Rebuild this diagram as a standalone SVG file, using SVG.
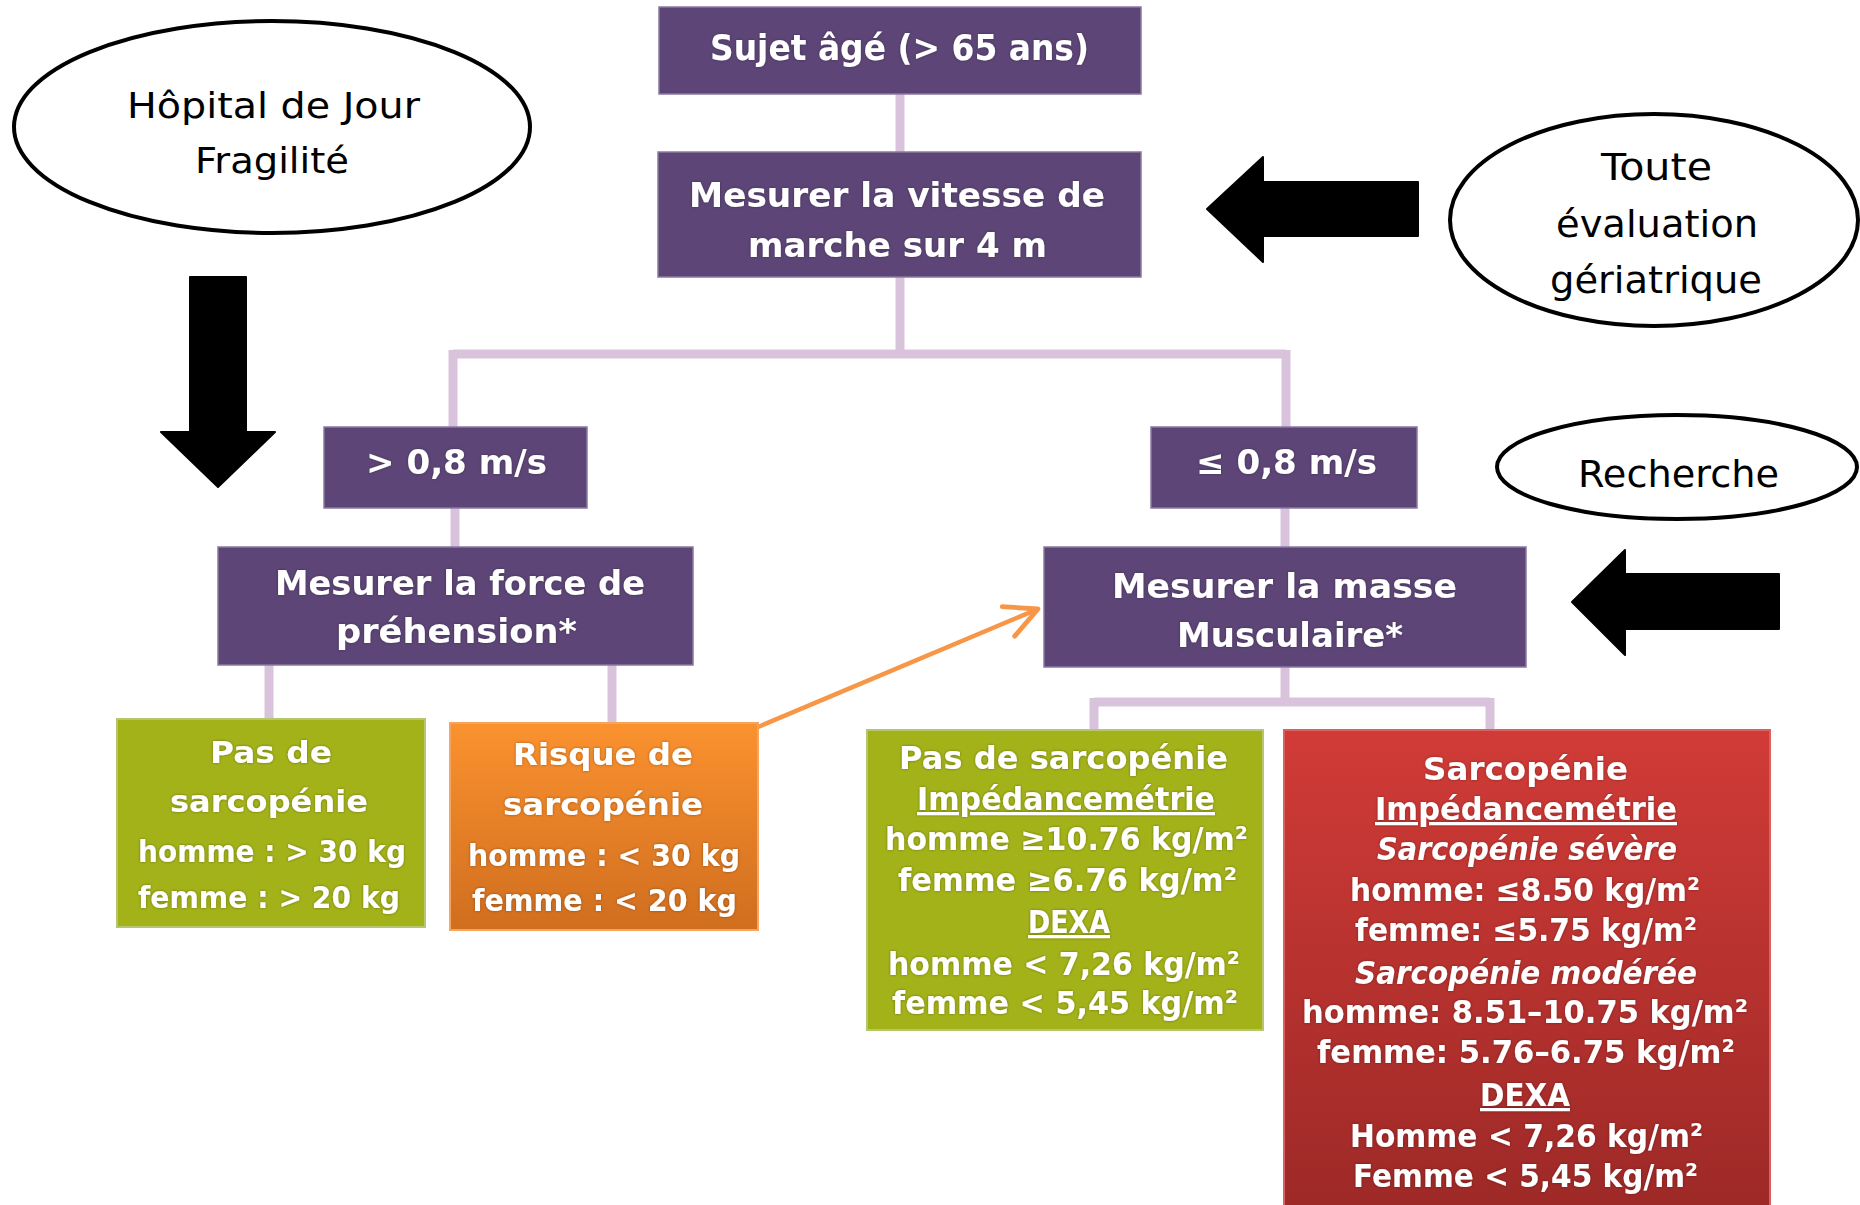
<svg xmlns="http://www.w3.org/2000/svg" width="1860" height="1205" viewBox="0 0 1860 1205">
<style>
.box{fill:#5D4677;stroke:#8A79A0;stroke-width:1.5}
.gr{fill:#A4B21A;stroke:#B4C66E;stroke-width:2}
.or{fill:url(#gOr);stroke:#F5A560;stroke-width:2}
.rd{fill:url(#gRd);stroke:#D8625E;stroke-width:2}
.ell{fill:#FFFFFF;stroke:#000000;stroke-width:4}
.conn{fill:none;stroke:#D9C3DC;stroke-width:9}
.blk{fill:#000000;stroke:#000000;stroke-width:2;stroke-linejoin:round}
.bt{font-family:"DejaVu Sans","Liberation Sans",sans-serif;font-weight:bold;fill:#FFFFFF;filter:url(#glow)}
.et{font-family:"DejaVu Sans","Liberation Sans",sans-serif;fill:#000000}
.it{font-style:italic}
.ul{text-decoration:underline}
</style>
<defs>
<linearGradient id="gOr" x1="0" y1="0" x2="0" y2="1">
<stop offset="0" stop-color="#FB922F"/><stop offset="1" stop-color="#D06E1F"/>
</linearGradient>
<linearGradient id="gRd" x1="0" y1="0" x2="0" y2="1">
<stop offset="0" stop-color="#D13B37"/><stop offset="1" stop-color="#9D2927"/>
</linearGradient>
<filter id="glow" x="-10%" y="-30%" width="120%" height="160%">
<feDropShadow dx="0" dy="0" stdDeviation="1.5" flood-color="#000000" flood-opacity="0.35"/>
</filter>
<marker id="oarr" markerUnits="userSpaceOnUse" markerWidth="40" markerHeight="40" viewBox="0 0 20 20" refX="18" refY="10" orient="auto">
<path d="M2,2 L18,10 L2,18" fill="none" stroke="#F79646" stroke-width="2.4" stroke-linecap="round" stroke-linejoin="round"/>
</marker>
</defs>

<g id="connectors">
<path class="conn" d="M900,94 V152"/>
<path class="conn" d="M900,277 V354 M453,354 H1286 M453,350 V427 M1286,350 V427"/>
<path class="conn" d="M455,508 V547"/>
<path class="conn" d="M1285,508 V547"/>
<path class="conn" d="M269,665 V719 M612,665 V723"/>
<path class="conn" d="M1285,667 V702 M1094,702 H1490 M1094,698 V730 M1490,698 V730"/>
<line x1="758" y1="727" x2="1038" y2="609" stroke="#F79646" stroke-width="4.5" marker-end="url(#oarr)"/>
<polygon class="blk" points="190,277 246,277 246,432 275,432 218,487 161,432 190,432"/>
<polygon class="blk" points="1418,182 1263,182 1263,157 1207,209 1263,262 1263,236 1418,236"/>
<polygon class="blk" points="1779,574 1625,574 1625,550 1572,602 1625,655 1625,629 1779,629"/>
</g>

<g id="hopital">
<ellipse class="ell" cx="272" cy="127" rx="258" ry="106"/>
<text class="et" font-size="35" x="127" y="118" textLength="293" lengthAdjust="spacingAndGlyphs">Hôpital de Jour</text>
<text class="et" font-size="35" x="195" y="173" textLength="154" lengthAdjust="spacingAndGlyphs">Fragilité</text>
</g>

<g id="toute">
<ellipse class="ell" cx="1654" cy="220" rx="204" ry="106"/>
<text class="et" font-size="38" x="1601" y="180" textLength="111" lengthAdjust="spacingAndGlyphs">Toute</text>
<text class="et" font-size="38" x="1556" y="237" textLength="202" lengthAdjust="spacingAndGlyphs">évaluation</text>
<text class="et" font-size="38" x="1550" y="293" textLength="212" lengthAdjust="spacingAndGlyphs">gériatrique</text>
</g>

<g id="recherche">
<ellipse class="ell" cx="1677" cy="467" rx="180" ry="52"/>
<text class="et" font-size="38" x="1578" y="487" textLength="201" lengthAdjust="spacingAndGlyphs">Recherche</text>
</g>

<g id="sujet">
<rect class="box" x="659" y="7" width="482" height="87"/>
<text class="bt" font-size="35" x="710" y="60" textLength="379" lengthAdjust="spacingAndGlyphs">Sujet âgé (&gt; 65 ans)</text>
</g>

<g id="vitesse">
<rect class="box" x="658" y="152" width="483" height="125"/>
<text class="bt" font-size="34" x="689" y="207" textLength="416" lengthAdjust="spacingAndGlyphs">Mesurer la vitesse de</text>
<text class="bt" font-size="34" x="748" y="257" textLength="299" lengthAdjust="spacingAndGlyphs">marche sur 4 m</text>
</g>

<g id="sup08">
<rect class="box" x="324" y="427" width="263" height="81"/>
<text class="bt" font-size="34" x="366" y="474" textLength="181" lengthAdjust="spacingAndGlyphs">&gt; 0,8 m/s</text>
</g>

<g id="inf08">
<rect class="box" x="1151" y="427" width="266" height="81"/>
<text class="bt" font-size="34" x="1196" y="474" textLength="181" lengthAdjust="spacingAndGlyphs">≤ 0,8 m/s</text>
</g>

<g id="force">
<rect class="box" x="218" y="547" width="475" height="118"/>
<text class="bt" font-size="34" x="275" y="595" textLength="370" lengthAdjust="spacingAndGlyphs">Mesurer la force de</text>
<text class="bt" font-size="34" x="336" y="643" textLength="241" lengthAdjust="spacingAndGlyphs">préhension*</text>
</g>

<g id="masse">
<rect class="box" x="1044" y="547" width="482" height="120"/>
<text class="bt" font-size="34" x="1112" y="598" textLength="345" lengthAdjust="spacingAndGlyphs">Mesurer la masse</text>
<text class="bt" font-size="34" x="1177" y="647" textLength="226" lengthAdjust="spacingAndGlyphs">Musculaire*</text>
</g>

<g id="pas-sarco-force">
<rect class="gr" x="117" y="719" width="308" height="208"/>
<text class="bt" font-size="31" x="210" y="763" textLength="122" lengthAdjust="spacingAndGlyphs">Pas de</text>
<text class="bt" font-size="31" x="170" y="812" textLength="198" lengthAdjust="spacingAndGlyphs">sarcopénie</text>
<text class="bt" font-size="31" x="138" y="862" textLength="268" lengthAdjust="spacingAndGlyphs">homme : &gt; 30 kg</text>
<text class="bt" font-size="31" x="138" y="908" textLength="262" lengthAdjust="spacingAndGlyphs">femme : &gt; 20 kg</text>
</g>

<g id="risque-sarco">
<rect class="or" x="450" y="723" width="308" height="207"/>
<text class="bt" font-size="31" x="513" y="765" textLength="180" lengthAdjust="spacingAndGlyphs">Risque de</text>
<text class="bt" font-size="31" x="503" y="815" textLength="200" lengthAdjust="spacingAndGlyphs">sarcopénie</text>
<text class="bt" font-size="31" x="468" y="866" textLength="272" lengthAdjust="spacingAndGlyphs">homme : &lt; 30 kg</text>
<text class="bt" font-size="31" x="472" y="911" textLength="265" lengthAdjust="spacingAndGlyphs">femme : &lt; 20 kg</text>
</g>

<g id="pas-sarco-masse">
<rect class="gr" x="867" y="730" width="396" height="300"/>
<text class="bt" font-size="32" x="899" y="769" textLength="329" lengthAdjust="spacingAndGlyphs">Pas de sarcopénie</text>
<text class="bt ul" font-size="32" x="917" y="810" textLength="298" lengthAdjust="spacingAndGlyphs">Impédancemétrie</text>
<text class="bt" font-size="32" x="885" y="850" textLength="363" lengthAdjust="spacingAndGlyphs">homme ≥10.76 kg/m²</text>
<text class="bt" font-size="32" x="898" y="891" textLength="339" lengthAdjust="spacingAndGlyphs">femme ≥6.76 kg/m²</text>
<text class="bt ul" font-size="32" x="1028" y="933" textLength="82" lengthAdjust="spacingAndGlyphs">DEXA</text>
<text class="bt" font-size="32" x="888" y="975" textLength="352" lengthAdjust="spacingAndGlyphs">homme &lt; 7,26 kg/m²</text>
<text class="bt" font-size="32" x="892" y="1014" textLength="346" lengthAdjust="spacingAndGlyphs">femme &lt; 5,45 kg/m²</text>
</g>

<g id="sarcopenie">
<rect class="rd" x="1284" y="730" width="486" height="480"/>
<text class="bt" font-size="32" x="1423" y="780" textLength="205" lengthAdjust="spacingAndGlyphs">Sarcopénie</text>
<text class="bt ul" font-size="32" x="1375" y="820" textLength="302" lengthAdjust="spacingAndGlyphs">Impédancemétrie</text>
<text class="bt it" font-size="32" x="1377" y="860" textLength="300" lengthAdjust="spacingAndGlyphs">Sarcopénie sévère</text>
<text class="bt" font-size="32" x="1350" y="901" textLength="350" lengthAdjust="spacingAndGlyphs">homme: ≤8.50 kg/m²</text>
<text class="bt" font-size="32" x="1355" y="941" textLength="342" lengthAdjust="spacingAndGlyphs">femme: ≤5.75 kg/m²</text>
<text class="bt it" font-size="32" x="1355" y="984" textLength="342" lengthAdjust="spacingAndGlyphs">Sarcopénie modérée</text>
<text class="bt" font-size="32" x="1302" y="1023" textLength="446" lengthAdjust="spacingAndGlyphs">homme: 8.51–10.75 kg/m²</text>
<text class="bt" font-size="32" x="1317" y="1063" textLength="418" lengthAdjust="spacingAndGlyphs">femme: 5.76–6.75 kg/m²</text>
<text class="bt ul" font-size="32" x="1480" y="1106" textLength="90" lengthAdjust="spacingAndGlyphs">DEXA</text>
<text class="bt" font-size="32" x="1350" y="1147" textLength="353" lengthAdjust="spacingAndGlyphs">Homme &lt; 7,26 kg/m²</text>
<text class="bt" font-size="32" x="1353" y="1187" textLength="345" lengthAdjust="spacingAndGlyphs">Femme &lt; 5,45 kg/m²</text>
</g>
</svg>
